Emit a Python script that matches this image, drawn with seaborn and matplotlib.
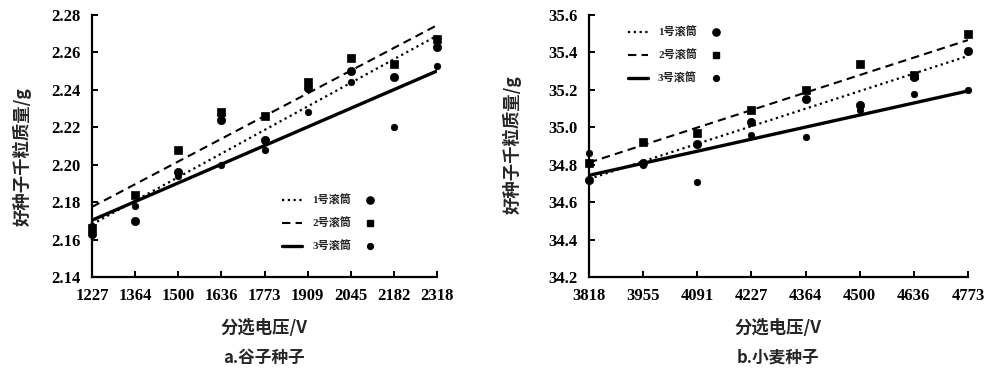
import pandas as pd
import matplotlib
matplotlib.use("Agg")
import matplotlib.pyplot as plt
from matplotlib.lines import Line2D
import seaborn as sns

sns.set_theme(style="white")
plt.rcParams['font.family'] = ['Liberation Serif', 'Noto Sans CJK SC']
plt.rcParams['font.weight'] = 'bold'

# ---------------------------
# data
# ---------------------------
series_names = ["1号滚筒", "2号滚筒", "3号滚筒"]

# a. millet seeds
millet_voltage = [1227, 1364, 1500, 1636, 1773, 1909, 2045, 2182, 2318]
millet_d1 = [2.163, 2.170, 2.196, 2.224, 2.213, 2.241, 2.250, 2.247, 2.263]
millet_d2 = [2.166, 2.184, 2.208, 2.228, 2.226, 2.244, 2.257, 2.254, 2.267]
millet_d3 = [2.167, 2.178, 2.194, 2.200, 2.208, 2.228, 2.244, 2.220, 2.253]
millet_yticks = [2.14, 2.16, 2.18, 2.20, 2.22, 2.24, 2.26, 2.28]

# b. wheat seeds
wheat_voltage = [3818, 3955, 4091, 4227, 4364, 4500, 4636, 4773]
wheat_d1 = [34.72, 34.81, 34.91, 35.03, 35.15, 35.12, 35.27, 35.41]
wheat_d2 = [34.81, 34.92, 34.97, 35.09, 35.20, 35.34, 35.28, 35.50]
wheat_d3 = [34.86, 34.80, 34.71, 34.96, 34.95, 35.09, 35.18, 35.20]
wheat_yticks = [34.2, 34.4, 34.6, 34.8, 35.0, 35.2, 35.4, 35.6]


def to_long(x, cols):
    frames = []
    for name, vals in zip(series_names, cols):
        frames.append(pd.DataFrame({"voltage": x, "mass": vals, "drum": name}))
    return pd.concat(frames, ignore_index=True)


millet = to_long(millet_voltage, [millet_d1, millet_d2, millet_d3])
wheat = to_long(wheat_voltage, [wheat_d1, wheat_d2, wheat_d3])

line_styles = {
    "1号滚筒": dict(ls=(0, (1, 1.6)), lw=1.6),
    "2号滚筒": dict(ls=(0, (4, 2.5)), lw=1.5),
    "3号滚筒": dict(ls="-", lw=2.4),
}
markers = {"1号滚筒": "o", "2号滚筒": "s", "3号滚筒": "o"}
msizes = {"1号滚筒": 36, "2号滚筒": 34, "3号滚筒": 22}
leg_msizes = {"1号滚筒": 5.2, "2号滚筒": 5.0, "3号滚筒": 4.2}

fig = plt.figure(figsize=(9.85, 3.71), dpi=100)
ax_a = fig.add_axes([92 / 985, 1 - 277 / 371, 345 / 985, 262 / 371])
ax_b = fig.add_axes([589 / 985, 1 - 277 / 371, 379 / 985, 262 / 371])


def draw_panel(ax, df, xticks, yticks, yfmt, xlim, ylim, leg_xy):
    for name in series_names:
        sub = df[df["drum"] == name]
        st = line_styles[name]
        sns.regplot(data=sub, x="voltage", y="mass", ax=ax, scatter=False,
                    ci=None, truncate=True, color="black",
                    line_kws=dict(linestyle=st["ls"], linewidth=st["lw"]))
        sns.scatterplot(data=sub, x="voltage", y="mass", ax=ax,
                        marker=markers[name], s=msizes[name], color="black",
                        edgecolor="black", linewidth=0.5, zorder=3)
    ax.set_xlim(*xlim)
    ax.set_ylim(*ylim)
    ax.set_xticks(xticks)
    ax.set_xticklabels([str(v) for v in xticks])
    ax.set_yticks(yticks)
    ax.set_yticklabels([yfmt % v for v in yticks])
    ax.set_xlabel("")
    ax.set_ylabel("")
    for s in ["top", "right"]:
        ax.spines[s].set_visible(False)
    for s in ["left", "bottom"]:
        ax.spines[s].set_color("black")
        ax.spines[s].set_linewidth(1.6)
    ax.tick_params(direction="in", length=4, width=1.4, colors="black",
                   labelsize=12, left=True, bottom=True)
    ax.tick_params(axis="x", pad=8)
    ax.tick_params(axis="y", pad=8)
    for c in ax.collections:
        c.set_clip_on(False)

    # legend: line sample, label, then marker after the label
    line_h = [Line2D([], [], color="black", linestyle=line_styles[n]["ls"],
                     linewidth=line_styles[n]["lw"]) for n in series_names]
    mark_h = [Line2D([], [], color="black", linestyle="none",
                     marker=markers[n], markersize=leg_msizes[n])
              for n in series_names]
    common = dict(frameon=False, labelspacing=1.05,
                  borderpad=0, borderaxespad=0, loc="upper left",
                  prop={"family": ["Liberation Serif", "Noto Sans CJK SC"],
                        "weight": "bold", "size": 8})
    leg1 = ax.legend(line_h, series_names, handlelength=1.8,
                     handletextpad=0.9, bbox_to_anchor=leg_xy, **common)
    ax.add_artist(leg1)
    dx = (1.8 + 0.9) * 8 * 100 / 72 / ax.bbox.width
    ax.legend(mark_h, series_names, handlelength=1.0, handletextpad=1.2,
              markerfirst=False, labelcolor="none",
              bbox_to_anchor=(leg_xy[0] + dx, leg_xy[1]), **common)


draw_panel(ax_a, millet, millet_voltage, millet_yticks, "%.2f",
           (1227, 2318), (2.14, 2.28), (0.551, 0.315))
draw_panel(ax_b, wheat, wheat_voltage, wheat_yticks, "%.1f",
           (3818, 4773), (34.2, 35.6), (0.103, 0.955))

cjk = ["Noto Sans CJK SC", "DejaVu Sans"]
for cx, ylab_x, ylab_y, cap in [(264 / 985, 22 / 985, 1 - 157 / 371, "a.谷子种子"),
                                (778 / 985, 512 / 985, 1 - 145 / 371, "b.小麦种子")]:
    fig.text(cx, 1 - 328 / 371, "分选电压/V", ha="center", va="center",
             fontsize=12.5, fontweight="bold", family=cjk)
    fig.text(cx, 1 - 358 / 371, cap, ha="center", va="center",
             fontsize=12, fontweight="bold", family=cjk)
    fig.text(ylab_x, ylab_y, "好种子千粒质量/g", ha="center", va="center",
             rotation=90, fontsize=12.5, fontweight="bold", family=cjk)

fig.savefig("out.png", dpi=100, facecolor="white")
